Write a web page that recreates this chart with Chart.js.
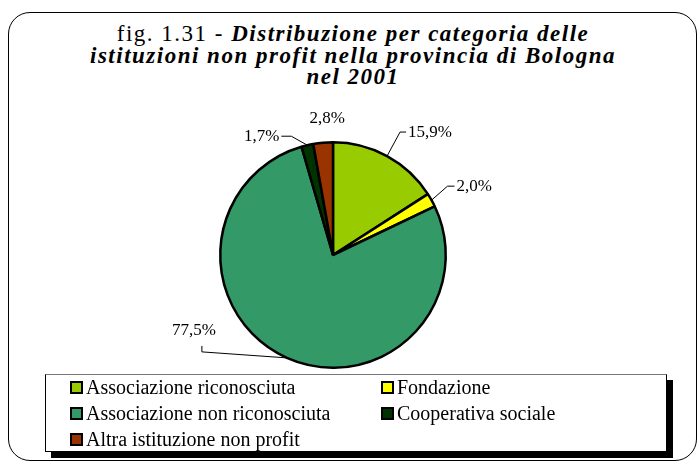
<!DOCTYPE html>
<html>
<head>
<meta charset="utf-8">
<script src="https://cdn.jsdelivr.net/npm/chart.js@4.4.0/dist/chart.umd.min.js"></script>
<style>
  html, body { margin: 0; padding: 0; background: #fff; }
  body { width: 697px; height: 461px; position: relative; overflow: hidden; }
  .frame {
    position: absolute; left: 8px; top: 12px; width: 689px; height: 449px;
    border: 1.5px solid #000; border-radius: 22px; box-sizing: border-box;
  }
  .title {
    position: absolute; left: 0; top: 23px; width: 706px; text-align: center;
    font-family: "Liberation Serif", serif; font-size: 23px; line-height: 21.5px;
    letter-spacing: 1.5px; color: #000;
  }
  .title b { font-style: italic; }
  #chart { position: absolute; left: 0; top: 0; }
  .legend {
    position: absolute; left: 45px; top: 374px; width: 622px; height: 78px;
    border: 1px solid #000; border-top-color: #777; box-sizing: border-box; background: #fff;
    box-shadow: 6px 6px 0 #000;
    font-family: "Liberation Serif", serif; font-size: 20px; color: #000;
  }
  .legend .item { position: absolute; display: flex; align-items: center; height: 20px; white-space: nowrap; }
  .legend .box { width: 9px; height: 9px; border: 2px solid #000; margin-right: 3px; }
</style>
</head>
<body>
<div class="frame"></div>
<div class="title">fig. 1.31 - <b>Distribuzione per categoria delle<br>istituzioni non profit nella provincia di Bologna<br>nel 2001</b></div>
<canvas id="chart" width="697" height="461"></canvas>
<div class="legend" id="legend"></div>
<script>
// categories and values (percent)
const categories = [
  'Associazione riconosciuta',
  'Fondazione',
  'Associazione non riconosciuta',
  'Cooperativa sociale',
  'Altra istituzione non profit'
];
const values = [15.9, 2.0, 77.5, 1.7, 2.8];
const valueLabels = ['15,9%', '2,0%', '77,5%', '1,7%', '2,8%'];
const colors = ['#99CC00', '#FFFF00', '#339966', '#003300', '#993300'];

// label placement relative to the point on the arc (mid angle)
const labelLayout = [
  { line: [[13, -24], [19, -24]], text: [21, -24], align: 'left' },
  { line: [[16, -14], [23, -14]], text: [25, -14], align: 'left' },
  { line: [[-85, -6], [-85, -12]], text: [-93, -27], align: 'center' },
  { line: [[-16, -9], [-26, -9]], text: [-28, -9], align: 'right' },
  { line: null, text: [4, -24], align: 'center' }
];

const pieLabels = {
  id: 'pieLabels',
  afterDatasetsDraw(chart) {
    const ctx = chart.ctx;
    const meta = chart.getDatasetMeta(0);
    ctx.save();
    ctx.font = '17px "Liberation Serif"';
    ctx.fillStyle = '#000';
    ctx.strokeStyle = '#000';
    ctx.lineWidth = 1;
    ctx.textBaseline = 'middle';
    meta.data.forEach((arc, i) => {
      const p = arc.getProps(['x', 'y', 'startAngle', 'endAngle', 'outerRadius'], true);
      const a = (p.startAngle + p.endAngle) / 2;
      const px = p.x + p.outerRadius * Math.cos(a);
      const py = p.y + p.outerRadius * Math.sin(a);
      const lay = labelLayout[i];
      if (lay.line) {
        ctx.beginPath();
        ctx.moveTo(px, py);
        lay.line.forEach(pt => ctx.lineTo(px + pt[0], py + pt[1]));
        ctx.stroke();
      }
      ctx.textAlign = lay.align;
      ctx.fillText(valueLabels[i], px + lay.text[0], py + lay.text[1]);
    });
    ctx.restore();
  }
};

new Chart(document.getElementById('chart'), {
  type: 'pie',
  data: {
    labels: categories,
    datasets: [{
      data: values,
      backgroundColor: colors,
      borderColor: '#000',
      borderWidth: 2.5
    }]
  },
  options: {
    responsive: false,
    animation: false,
    layout: { padding: { left: 219, right: 250, top: 141, bottom: 92 } },
    plugins: {
      legend: { display: false },
      tooltip: { enabled: false }
    }
  },
  plugins: [pieLabels]
});

// legend in two columns
const legend = document.getElementById('legend');
const legendPos = [[24, 2], [335, 2], [24, 28], [335, 28], [24, 54]];
categories.forEach((c, i) => {
  const el = document.createElement('div');
  el.className = 'item';
  el.style.left = legendPos[i][0] + 'px';
  el.style.top = legendPos[i][1] + 'px';
  el.innerHTML = '<span class="box" style="background:' + colors[i] + '"></span>' + c;
  legend.appendChild(el);
});
</script>
</body>
</html>
